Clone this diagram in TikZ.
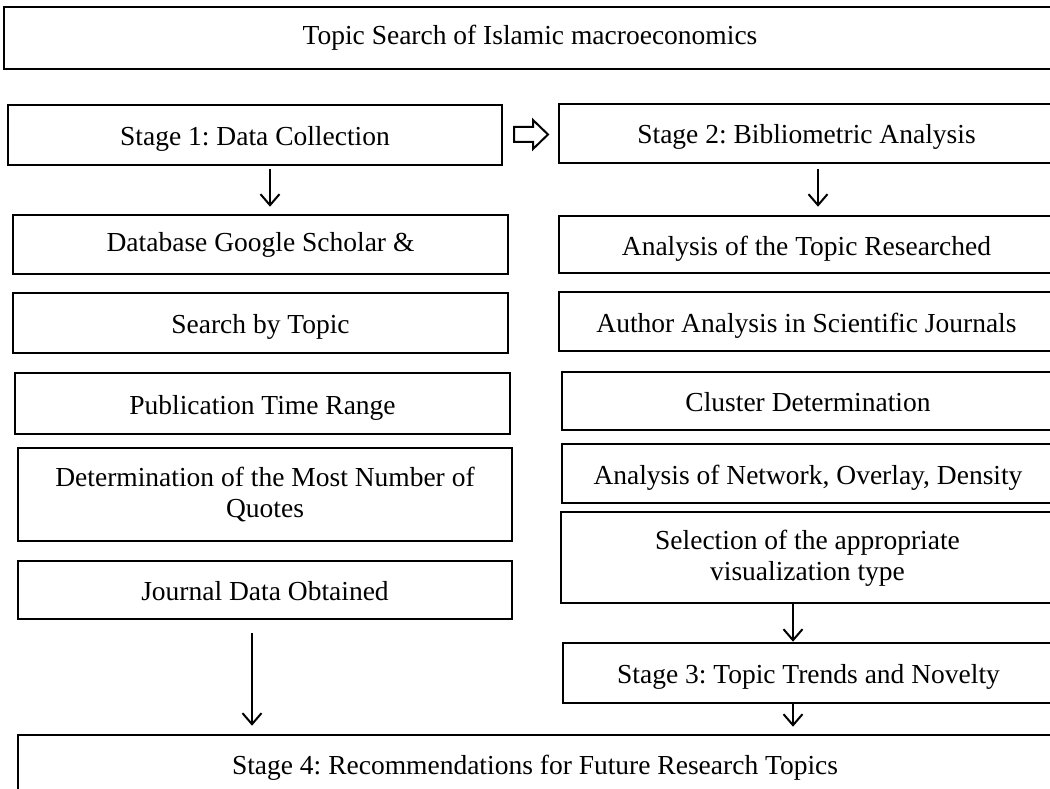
\documentclass[tikz,border=0pt]{standalone}
\usepackage{fontspec}
\setmainfont{Liberation Serif}
\usetikzlibrary{arrows.meta}
\frenchspacing
\begin{document}
\begin{tikzpicture}[x=1pt,y=-1pt,
  box/.style={draw=black, line width=2.6pt, rectangle, inner sep=0pt, align=center,
    font=\fontsize{27.5}{31}\selectfont},
  onebox/.style={box, text height=21pt, text depth=0pt},
  arr/.style={draw=black, line width=2pt, -{Straight Barb[length=11pt,width=19pt,line width=2pt]}},
  blockarrow/.style={draw=black, line width=2pt, line join=miter, fill=white}]
\path[use as bounding box] (0,0) rectangle (1050,789);
\clip (0,0) rectangle (1050,789);

% title bar
\node[box, minimum width=1052pt, minimum height=62pt] (top) at (530,38) {Topic Search of Islamic macroeconomics};

% stage headers
\node[onebox, minimum width=494pt, minimum height=60pt] (s1) at (255,135) {Stage 1: Data Collection};
\node[onebox, minimum width=495pt, minimum height=59pt] (s2) at (806.5,133.5) {Stage 2: Bibliometric Analysis};

% left column: data collection steps
\node[box, minimum width=495pt, minimum height=59pt] (db) at (260.5,244.5) {Database Google Scholar \&};
\node[onebox, minimum width=495pt, minimum height=60pt] (sbt) at (260.5,323) {Search by Topic};
\node[onebox, minimum width=495pt, minimum height=61pt] (ptr) at (262.5,403.5) {Publication Time Range};
\node[box, minimum width=494pt, minimum height=93pt, text depth=4pt] (dmn) at (265,494.5) {Determination of the Most Number of\\Quotes};
\node[onebox, minimum width=494pt, minimum height=58pt] (jdo) at (265,590) {Journal Data Obtained};

% right column: bibliometric analysis steps
\node[onebox, minimum width=495pt, minimum height=57pt] (atr) at (806.5,244.5) {Analysis of the Topic Researched};
\node[onebox, minimum width=495pt, minimum height=59pt] (aa) at (806.5,321.5) {Author Analysis in Scientific Journals};
\node[onebox, minimum width=492pt, minimum height=58pt] (cd) at (808,401) {Cluster Determination};
\node[onebox, minimum width=492pt, minimum height=59pt] (ano) at (808,473.5) {Analysis of Network, Overlay, Density};
\node[box, minimum width=493pt, minimum height=91pt, text depth=4pt] (sel) at (807.5,557.5) {Selection of the appropriate\\visualization type};
\node[onebox, minimum width=491pt, minimum height=60pt] (s3) at (808.5,673) {Stage 3: Topic Trends and Novelty};

% final stage
\node[onebox, minimum width=1034pt, minimum height=57pt] (s4) at (535,763.5) {Stage 4: Recommendations for Future Research Topics};

% hollow block arrow from stage 1 to stage 2
\draw[blockarrow] (514,127) -- (533,127) -- (533,120) -- (548,134.5) -- (533,149) -- (533,142) -- (514,142) -- cycle;

% flow arrows
\draw[arr, shorten <=3pt, shorten >=7pt] ([xshift=15pt]s1.south) -- ([xshift=15pt]s1.south |- db.north);
\draw[arr, shorten <=5pt, shorten >=8pt] ([xshift=11.5pt]s2.south) -- ([xshift=11.5pt]s2.south |- atr.north);
\draw[arr] ([xshift=-14.5pt]sel.south) -- ([xshift=-14.5pt]sel.south |- s3.north);
\draw[arr, shorten >=7pt] ([xshift=-15.5pt]s3.south) -- ([xshift=-15.5pt]s3.south |- s4.north);
\draw[arr, shorten <=13pt, shorten >=8pt] ([xshift=-13pt]jdo.south) -- ([xshift=-13pt]jdo.south |- s4.north);
\end{tikzpicture}
\end{document}
